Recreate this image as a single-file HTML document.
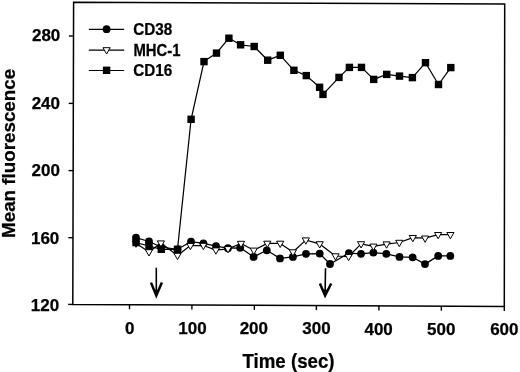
<!DOCTYPE html><html><head><meta charset="utf-8"><style>html,body{margin:0;padding:0;background:#fff;}svg{display:block;filter:grayscale(1);}text{font-family:"Liberation Sans", sans-serif;font-weight:bold;fill:#000;stroke:#000;stroke-width:0.25px;}</style></head><body>
<svg width="520" height="372" viewBox="0 0 520 372">
<rect width="520" height="372" fill="#fff"/>
<path d="M73.60 2.20L504.70 3.95L504.30 306.40L72.80 304.40Z" fill="none" stroke="#000" stroke-width="1.50" stroke-linejoin="miter"/>
<line x1="68.91" y1="36.00" x2="73.51" y2="36.00" stroke="#000" stroke-width="1.4"/>
<line x1="68.73" y1="103.40" x2="73.33" y2="103.40" stroke="#000" stroke-width="1.4"/>
<line x1="68.55" y1="170.60" x2="73.15" y2="170.60" stroke="#000" stroke-width="1.4"/>
<line x1="68.38" y1="237.70" x2="72.98" y2="237.70" stroke="#000" stroke-width="1.4"/>
<line x1="68.20" y1="304.40" x2="72.80" y2="304.40" stroke="#000" stroke-width="1.4"/>
<line x1="129.50" y1="304.66" x2="129.50" y2="309.26" stroke="#000" stroke-width="1.4"/>
<line x1="191.90" y1="304.95" x2="191.90" y2="309.55" stroke="#000" stroke-width="1.4"/>
<line x1="254.35" y1="305.24" x2="254.35" y2="309.84" stroke="#000" stroke-width="1.4"/>
<line x1="316.40" y1="305.53" x2="316.40" y2="310.13" stroke="#000" stroke-width="1.4"/>
<line x1="378.90" y1="305.82" x2="378.90" y2="310.42" stroke="#000" stroke-width="1.4"/>
<line x1="441.35" y1="306.11" x2="441.35" y2="310.71" stroke="#000" stroke-width="1.4"/>
<line x1="504.30" y1="306.40" x2="504.30" y2="311.00" stroke="#000" stroke-width="1.4"/>
<text x="60.30" y="41.20" font-size="17" text-anchor="end">280</text>
<text x="60.00" y="108.85" font-size="17" text-anchor="end">240</text>
<text x="59.90" y="176.20" font-size="17" text-anchor="end">200</text>
<text x="59.30" y="243.85" font-size="17" text-anchor="end">160</text>
<text x="59.20" y="310.90" font-size="17" text-anchor="end">120</text>
<text x="129.70" y="333.50" font-size="17" text-anchor="middle">0</text>
<text x="192.50" y="334.25" font-size="17" text-anchor="middle">100</text>
<text x="253.85" y="334.30" font-size="17" text-anchor="middle">200</text>
<text x="316.45" y="334.25" font-size="17" text-anchor="middle">300</text>
<text x="378.65" y="334.55" font-size="17" text-anchor="middle">400</text>
<text x="441.25" y="334.80" font-size="17" text-anchor="middle">500</text>
<text x="504.35" y="334.95" font-size="17" text-anchor="middle">600</text>
<text transform="translate(288.5 367.8) scale(0.955 1)" x="0" y="0" font-size="19.6" text-anchor="middle">Time (sec)</text>
<text transform="translate(15.2 153.4) rotate(-90)" x="0" y="0" font-size="18.8" text-anchor="middle">Mean fluorescence</text>
<polyline points="136.00,237.60 149.00,241.50 161.00,247.00 177.50,249.30 191.00,241.70 203.40,243.30 216.00,246.10 227.90,248.20 240.20,247.80 253.60,256.90 266.80,250.30 280.00,258.40 292.90,256.90 306.00,253.80 319.70,253.60 330.00,264.00 348.90,253.20 361.00,253.80 373.40,252.60 386.30,253.90 399.50,256.90 412.60,257.30 425.00,264.10 438.20,255.90 450.30,255.90" fill="none" stroke="#000" stroke-width="1.25" stroke-linejoin="round"/>
<polyline points="136.00,243.20 149.00,251.90 160.90,243.10 177.50,255.50 190.40,245.60 203.40,245.50 215.90,250.10 228.00,248.80 241.00,243.50 253.80,250.30 267.30,243.40 280.20,243.40 292.90,252.00 305.80,240.10 319.70,243.90 335.50,256.00 348.60,256.60 361.10,243.90 373.40,246.30 386.60,244.10 399.30,242.50 412.80,237.70 425.10,238.20 438.10,234.70 450.40,234.70" fill="none" stroke="#000" stroke-width="1.25" stroke-linejoin="round"/>
<polyline points="136.00,242.60 149.00,246.00 161.30,249.30 177.50,249.30 191.10,119.30 204.00,61.60 216.50,53.10 228.90,38.20 240.60,44.80 254.20,46.50 267.70,60.20 280.30,55.30 293.90,70.30 306.30,75.60 319.60,87.30 323.00,94.40 339.00,77.40 349.40,67.40 361.50,67.40 373.70,79.40 386.70,74.40 399.50,76.10 412.40,77.60 425.50,62.70 438.50,84.50 450.80,67.60" fill="none" stroke="#000" stroke-width="1.25" stroke-linejoin="round"/>
<circle cx="136.00" cy="237.60" r="3.90" fill="#000"/>
<circle cx="149.00" cy="241.50" r="3.90" fill="#000"/>
<circle cx="161.00" cy="247.00" r="3.90" fill="#000"/>
<circle cx="177.50" cy="249.30" r="3.90" fill="#000"/>
<circle cx="191.00" cy="241.70" r="3.90" fill="#000"/>
<circle cx="203.40" cy="243.30" r="3.90" fill="#000"/>
<circle cx="216.00" cy="246.10" r="3.90" fill="#000"/>
<circle cx="227.90" cy="248.20" r="3.90" fill="#000"/>
<circle cx="240.20" cy="247.80" r="3.90" fill="#000"/>
<circle cx="253.60" cy="256.90" r="3.90" fill="#000"/>
<circle cx="266.80" cy="250.30" r="3.90" fill="#000"/>
<circle cx="280.00" cy="258.40" r="3.90" fill="#000"/>
<circle cx="292.90" cy="256.90" r="3.90" fill="#000"/>
<circle cx="306.00" cy="253.80" r="3.90" fill="#000"/>
<circle cx="319.70" cy="253.60" r="3.90" fill="#000"/>
<circle cx="330.00" cy="264.00" r="3.90" fill="#000"/>
<circle cx="348.90" cy="253.20" r="3.90" fill="#000"/>
<circle cx="361.00" cy="253.80" r="3.90" fill="#000"/>
<circle cx="373.40" cy="252.60" r="3.90" fill="#000"/>
<circle cx="386.30" cy="253.90" r="3.90" fill="#000"/>
<circle cx="399.50" cy="256.90" r="3.90" fill="#000"/>
<circle cx="412.60" cy="257.30" r="3.90" fill="#000"/>
<circle cx="425.00" cy="264.10" r="3.90" fill="#000"/>
<circle cx="438.20" cy="255.90" r="3.90" fill="#000"/>
<circle cx="450.30" cy="255.90" r="3.90" fill="#000"/>
<path d="M132.40 241.00L139.60 241.00L136.00 247.30Z" fill="#fff" stroke="#000" stroke-width="1.00" stroke-linejoin="miter"/>
<path d="M145.40 249.70L152.60 249.70L149.00 256.00Z" fill="#fff" stroke="#000" stroke-width="1.00" stroke-linejoin="miter"/>
<path d="M157.30 240.90L164.50 240.90L160.90 247.20Z" fill="#fff" stroke="#000" stroke-width="1.00" stroke-linejoin="miter"/>
<path d="M173.90 253.30L181.10 253.30L177.50 259.60Z" fill="#fff" stroke="#000" stroke-width="1.00" stroke-linejoin="miter"/>
<path d="M186.80 243.40L194.00 243.40L190.40 249.70Z" fill="#fff" stroke="#000" stroke-width="1.00" stroke-linejoin="miter"/>
<path d="M199.80 243.30L207.00 243.30L203.40 249.60Z" fill="#fff" stroke="#000" stroke-width="1.00" stroke-linejoin="miter"/>
<path d="M212.30 247.90L219.50 247.90L215.90 254.20Z" fill="#fff" stroke="#000" stroke-width="1.00" stroke-linejoin="miter"/>
<path d="M224.40 246.60L231.60 246.60L228.00 252.90Z" fill="#fff" stroke="#000" stroke-width="1.00" stroke-linejoin="miter"/>
<path d="M237.40 241.30L244.60 241.30L241.00 247.60Z" fill="#fff" stroke="#000" stroke-width="1.00" stroke-linejoin="miter"/>
<path d="M250.20 248.10L257.40 248.10L253.80 254.40Z" fill="#fff" stroke="#000" stroke-width="1.00" stroke-linejoin="miter"/>
<path d="M263.70 241.20L270.90 241.20L267.30 247.50Z" fill="#fff" stroke="#000" stroke-width="1.00" stroke-linejoin="miter"/>
<path d="M276.60 241.20L283.80 241.20L280.20 247.50Z" fill="#fff" stroke="#000" stroke-width="1.00" stroke-linejoin="miter"/>
<path d="M289.30 249.80L296.50 249.80L292.90 256.10Z" fill="#fff" stroke="#000" stroke-width="1.00" stroke-linejoin="miter"/>
<path d="M302.20 237.90L309.40 237.90L305.80 244.20Z" fill="#fff" stroke="#000" stroke-width="1.00" stroke-linejoin="miter"/>
<path d="M316.10 241.70L323.30 241.70L319.70 248.00Z" fill="#fff" stroke="#000" stroke-width="1.00" stroke-linejoin="miter"/>
<path d="M331.90 253.80L339.10 253.80L335.50 260.10Z" fill="#fff" stroke="#000" stroke-width="1.00" stroke-linejoin="miter"/>
<path d="M345.00 254.40L352.20 254.40L348.60 260.70Z" fill="#fff" stroke="#000" stroke-width="1.00" stroke-linejoin="miter"/>
<path d="M357.50 241.70L364.70 241.70L361.10 248.00Z" fill="#fff" stroke="#000" stroke-width="1.00" stroke-linejoin="miter"/>
<path d="M369.80 244.10L377.00 244.10L373.40 250.40Z" fill="#fff" stroke="#000" stroke-width="1.00" stroke-linejoin="miter"/>
<path d="M383.00 241.90L390.20 241.90L386.60 248.20Z" fill="#fff" stroke="#000" stroke-width="1.00" stroke-linejoin="miter"/>
<path d="M395.70 240.30L402.90 240.30L399.30 246.60Z" fill="#fff" stroke="#000" stroke-width="1.00" stroke-linejoin="miter"/>
<path d="M409.20 235.50L416.40 235.50L412.80 241.80Z" fill="#fff" stroke="#000" stroke-width="1.00" stroke-linejoin="miter"/>
<path d="M421.50 236.00L428.70 236.00L425.10 242.30Z" fill="#fff" stroke="#000" stroke-width="1.00" stroke-linejoin="miter"/>
<path d="M434.50 232.50L441.70 232.50L438.10 238.80Z" fill="#fff" stroke="#000" stroke-width="1.00" stroke-linejoin="miter"/>
<path d="M446.80 232.50L454.00 232.50L450.40 238.80Z" fill="#fff" stroke="#000" stroke-width="1.00" stroke-linejoin="miter"/>
<rect x="132.30" y="238.90" width="7.40" height="7.40" fill="#000"/>
<rect x="145.30" y="242.30" width="7.40" height="7.40" fill="#000"/>
<rect x="157.60" y="245.60" width="7.40" height="7.40" fill="#000"/>
<rect x="173.80" y="245.60" width="7.40" height="7.40" fill="#000"/>
<rect x="187.40" y="115.60" width="7.40" height="7.40" fill="#000"/>
<rect x="200.30" y="57.90" width="7.40" height="7.40" fill="#000"/>
<rect x="212.80" y="49.40" width="7.40" height="7.40" fill="#000"/>
<rect x="225.20" y="34.50" width="7.40" height="7.40" fill="#000"/>
<rect x="236.90" y="41.10" width="7.40" height="7.40" fill="#000"/>
<rect x="250.50" y="42.80" width="7.40" height="7.40" fill="#000"/>
<rect x="264.00" y="56.50" width="7.40" height="7.40" fill="#000"/>
<rect x="276.60" y="51.60" width="7.40" height="7.40" fill="#000"/>
<rect x="290.20" y="66.60" width="7.40" height="7.40" fill="#000"/>
<rect x="302.60" y="71.90" width="7.40" height="7.40" fill="#000"/>
<rect x="315.90" y="83.60" width="7.40" height="7.40" fill="#000"/>
<rect x="319.30" y="90.70" width="7.40" height="7.40" fill="#000"/>
<rect x="335.30" y="73.70" width="7.40" height="7.40" fill="#000"/>
<rect x="345.70" y="63.70" width="7.40" height="7.40" fill="#000"/>
<rect x="357.80" y="63.70" width="7.40" height="7.40" fill="#000"/>
<rect x="370.00" y="75.70" width="7.40" height="7.40" fill="#000"/>
<rect x="383.00" y="70.70" width="7.40" height="7.40" fill="#000"/>
<rect x="395.80" y="72.40" width="7.40" height="7.40" fill="#000"/>
<rect x="408.70" y="73.90" width="7.40" height="7.40" fill="#000"/>
<rect x="421.80" y="59.00" width="7.40" height="7.40" fill="#000"/>
<rect x="434.80" y="80.80" width="7.40" height="7.40" fill="#000"/>
<rect x="447.10" y="63.90" width="7.40" height="7.40" fill="#000"/>
<line x1="156.30" y1="267.70" x2="156.30" y2="294.80" stroke="#000" stroke-width="1.6"/><path d="M151.00 282.60L156.30 295.60L161.90 282.60" fill="none" stroke="#000" stroke-width="2.5" stroke-linejoin="miter" stroke-miterlimit="10"/><path d="M154.10 289.80L158.50 289.80L156.30 296.80Z" fill="#000"/>
<line x1="325.50" y1="268.20" x2="325.10" y2="294.80" stroke="#000" stroke-width="1.6"/><path d="M319.90 283.50L325.10 295.60L331.20 283.50" fill="none" stroke="#000" stroke-width="2.5" stroke-linejoin="miter" stroke-miterlimit="10"/><path d="M322.90 289.80L327.30 289.80L325.10 296.80Z" fill="#000"/>
<line x1="88.80" y1="29.3" x2="124.20" y2="29.3" stroke="#000" stroke-width="1.2"/>
<line x1="88.80" y1="50.1" x2="124.20" y2="50.1" stroke="#000" stroke-width="1.2"/>
<line x1="88.80" y1="70.5" x2="124.20" y2="70.5" stroke="#000" stroke-width="1.2"/>
<circle cx="106.60" cy="29.20" r="3.90" fill="#000"/>
<path d="M103.00 47.70L110.20 47.70L106.60 54.00Z" fill="#fff" stroke="#000" stroke-width="1.00" stroke-linejoin="miter"/>
<rect x="102.90" y="66.60" width="7.40" height="7.40" fill="#000"/>
<text transform="translate(133.2 35.3) scale(0.955 1)" font-size="16">CD38</text>
<text transform="translate(133.4 55.7) scale(0.931125 1)" font-size="16">MHC-1</text>
<text transform="translate(133.2 75.8) scale(0.955 1)" font-size="16">CD16</text>
</svg></body></html>
